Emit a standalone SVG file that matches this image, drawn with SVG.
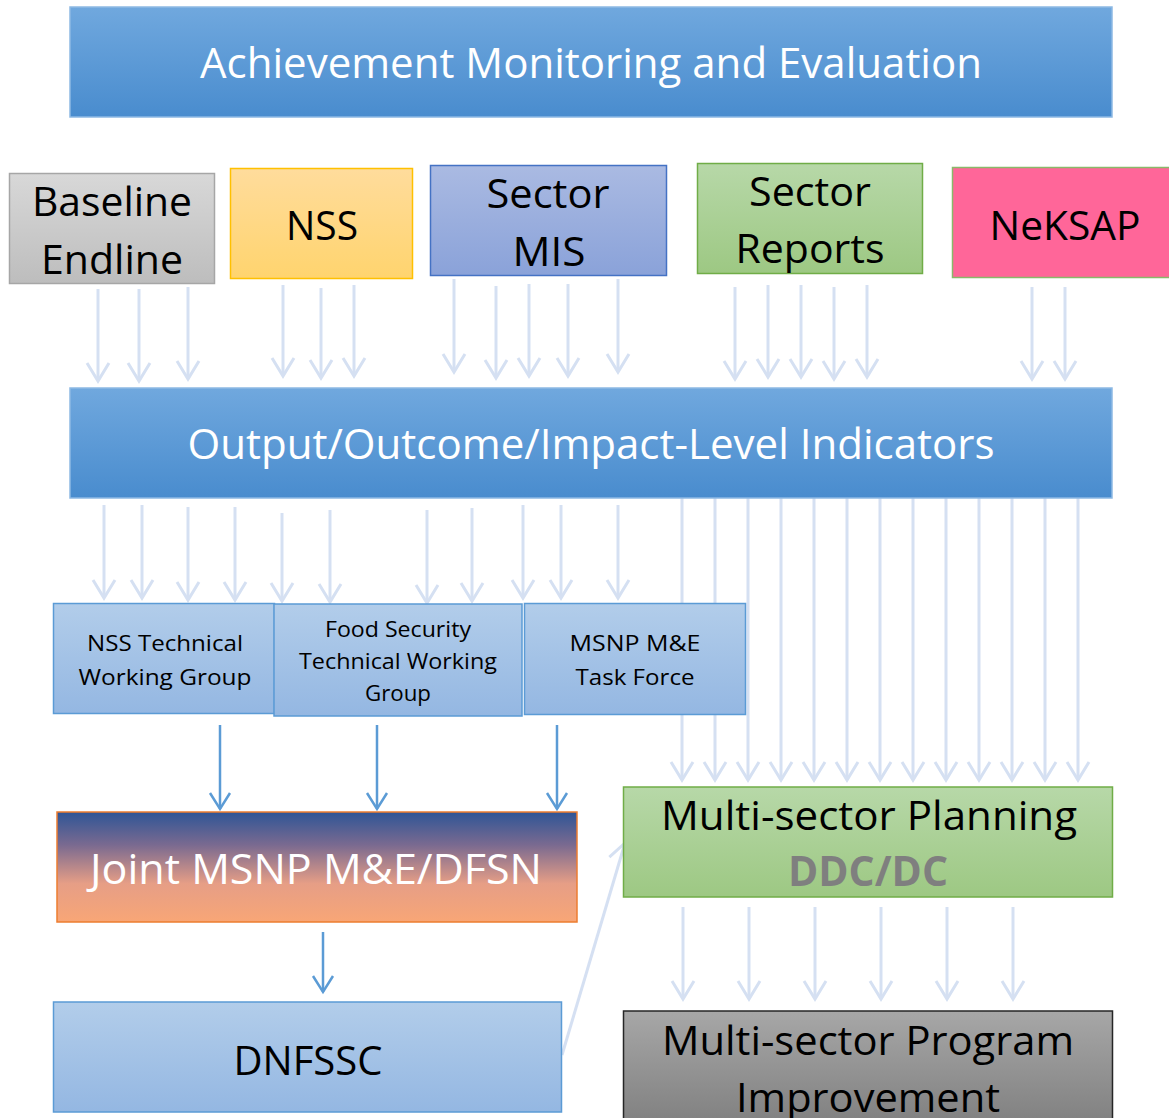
<svg xmlns="http://www.w3.org/2000/svg" width="1169" height="1118" viewBox="0 0 1169 1118">
<defs>
<linearGradient id="gBar" x1="0" y1="0" x2="0" y2="1"><stop offset="0" stop-color="#70a8de"/><stop offset="1" stop-color="#498cce"/></linearGradient>
<linearGradient id="gGray" x1="0" y1="0" x2="0" y2="1"><stop offset="0" stop-color="#d8d8d8"/><stop offset="1" stop-color="#bdbdbd"/></linearGradient>
<linearGradient id="gYel" x1="0" y1="0" x2="0" y2="1"><stop offset="0" stop-color="#ffdc9c"/><stop offset="1" stop-color="#ffd46e"/></linearGradient>
<linearGradient id="gPur" x1="0" y1="0" x2="0" y2="1"><stop offset="0" stop-color="#aabae2"/><stop offset="1" stop-color="#8aa2d9"/></linearGradient>
<linearGradient id="gGrn" x1="0" y1="0" x2="0" y2="1"><stop offset="0" stop-color="#b7d8a8"/><stop offset="1" stop-color="#9dc883"/></linearGradient>
<linearGradient id="gLb" x1="0" y1="0" x2="0" y2="1"><stop offset="0" stop-color="#b2cdea"/><stop offset="1" stop-color="#94b7e2"/></linearGradient>
<linearGradient id="gJoint" x1="0" y1="0" x2="0" y2="1"><stop offset="0" stop-color="#2e5596"/><stop offset="0.3" stop-color="#7a6a90"/><stop offset="0.65" stop-color="#e69e86"/><stop offset="1" stop-color="#f8a676"/></linearGradient>
<linearGradient id="gDark" x1="0" y1="0" x2="0" y2="1"><stop offset="0" stop-color="#a7a7a7"/><stop offset="1" stop-color="#7e7e7e"/></linearGradient>
<marker id="aL" markerUnits="userSpaceOnUse" markerWidth="40" markerHeight="40" viewBox="-20 -20 40 40" refX="0" refY="0" orient="auto"><path d="M-18,-11 L0,0 L-18,11" fill="none" stroke="#d5e0f2" stroke-width="3"/></marker>
<marker id="aB" markerUnits="userSpaceOnUse" markerWidth="40" markerHeight="40" viewBox="-20 -20 40 40" refX="0" refY="0" orient="auto"><path d="M-16,-10 L0,0 L-16,10" fill="none" stroke="#5b9bd5" stroke-width="2.5"/></marker>
</defs>
<style>
.t{font-family:"Open Sans","Noto Sans",sans-serif;text-anchor:middle}
.big{font-size:41px;fill:#000}
.wht{font-size:42px;fill:#fff}
.sm{font-size:22px;fill:#000}
.la{stroke:#d5e0f2;stroke-width:3;fill:none;marker-end:url(#aL)}
.ba{stroke:#5b9bd5;stroke-width:2.5;fill:none;marker-end:url(#aB)}
</style>
<rect width="1169" height="1118" fill="#fff"/>
<g id="connectors">
<line class="la" x1="98" y1="289" x2="98" y2="381"/>
<line class="la" x1="139" y1="289" x2="139" y2="381"/>
<line class="la" x1="188" y1="287" x2="188" y2="379"/>
<line class="la" x1="283" y1="285" x2="283" y2="376"/>
<line class="la" x1="321" y1="288" x2="321" y2="378"/>
<line class="la" x1="354" y1="285" x2="354" y2="376"/>
<line class="la" x1="454" y1="279" x2="454" y2="372"/>
<line class="la" x1="496" y1="286" x2="496" y2="378"/>
<line class="la" x1="529" y1="284" x2="529" y2="376"/>
<line class="la" x1="568" y1="284" x2="568" y2="376"/>
<line class="la" x1="618" y1="279" x2="618" y2="372"/>
<line class="la" x1="735" y1="287" x2="735" y2="379"/>
<line class="la" x1="768" y1="285" x2="768" y2="377"/>
<line class="la" x1="801" y1="285" x2="801" y2="377"/>
<line class="la" x1="834" y1="287" x2="834" y2="379"/>
<line class="la" x1="867" y1="285" x2="867" y2="377"/>
<line class="la" x1="1032" y1="287" x2="1032" y2="379"/>
<line class="la" x1="1065" y1="287" x2="1065" y2="379"/>
<line class="la" x1="104" y1="505" x2="104" y2="598"/>
<line class="la" x1="142" y1="505" x2="142" y2="598"/>
<line class="la" x1="188" y1="507" x2="188" y2="600"/>
<line class="la" x1="235" y1="507" x2="235" y2="600"/>
<line class="la" x1="282" y1="513" x2="282" y2="601"/>
<line class="la" x1="330" y1="510" x2="330" y2="602"/>
<line class="la" x1="427" y1="510" x2="427" y2="603"/>
<line class="la" x1="472" y1="508" x2="472" y2="601"/>
<line class="la" x1="523" y1="505" x2="523" y2="598"/>
<line class="la" x1="561" y1="505" x2="561" y2="598"/>
<line class="la" x1="618" y1="505" x2="618" y2="598"/>
<line class="la" x1="682" y1="498" x2="682" y2="780"/>
<line class="la" x1="715" y1="498" x2="715" y2="780"/>
<line class="la" x1="748" y1="498" x2="748" y2="780"/>
<line class="la" x1="781" y1="498" x2="781" y2="780"/>
<line class="la" x1="814" y1="498" x2="814" y2="780"/>
<line class="la" x1="847" y1="498" x2="847" y2="780"/>
<line class="la" x1="880" y1="498" x2="880" y2="780"/>
<line class="la" x1="913" y1="498" x2="913" y2="780"/>
<line class="la" x1="946" y1="498" x2="946" y2="780"/>
<line class="la" x1="979" y1="498" x2="979" y2="780"/>
<line class="la" x1="1012" y1="498" x2="1012" y2="780"/>
<line class="la" x1="1045" y1="498" x2="1045" y2="780"/>
<line class="la" x1="1078" y1="498" x2="1078" y2="780"/>
<line class="la" x1="683" y1="907" x2="683" y2="999"/>
<line class="la" x1="749" y1="907" x2="749" y2="999"/>
<line class="la" x1="815" y1="907" x2="815" y2="999"/>
<line class="la" x1="881" y1="907" x2="881" y2="999"/>
<line class="la" x1="947" y1="907" x2="947" y2="999"/>
<line class="la" x1="1013" y1="907" x2="1013" y2="999"/>
<line class="la" x1="562" y1="1055" x2="625" y2="843"/>
<line class="ba" x1="220" y1="725" x2="220" y2="809"/>
<line class="ba" x1="377" y1="725" x2="377" y2="809"/>
<line class="ba" x1="557" y1="725" x2="557" y2="809"/>
<line class="ba" x1="323" y1="932" x2="323" y2="992"/>
</g>
<g id="n-achievement">
<rect x="70" y="7" width="1042" height="110" fill="url(#gBar)" stroke="#8db9e4" stroke-width="1.5"/>
<text class="t wht" x="591" y="78" textLength="782" lengthAdjust="spacingAndGlyphs">Achievement Monitoring and Evaluation</text>
</g>
<g id="n-baseline">
<rect x="9.5" y="173.5" width="205" height="110" fill="url(#gGray)" stroke="#a6a6a6" stroke-width="1.5"/>
<text class="t big" x="112" y="216" textLength="160" lengthAdjust="spacingAndGlyphs">Baseline</text>
<text class="t big" x="112" y="274" textLength="142" lengthAdjust="spacingAndGlyphs">Endline</text>
</g>
<g id="n-nss">
<rect x="230.5" y="168.5" width="182" height="110" fill="url(#gYel)" stroke="#ffc000" stroke-width="1.5"/>
<text class="t big" x="322" y="240" textLength="72" lengthAdjust="spacingAndGlyphs">NSS</text>
</g>
<g id="n-sectormis">
<rect x="430.5" y="165.5" width="236" height="110" fill="url(#gPur)" stroke="#4472c4" stroke-width="1.5"/>
<text class="t big" x="548" y="208" textLength="123" lengthAdjust="spacingAndGlyphs">Sector</text>
<text class="t big" x="549" y="266" textLength="73" lengthAdjust="spacingAndGlyphs">MIS</text>
</g>
<g id="n-sectorreports">
<rect x="697.5" y="163.5" width="225" height="110" fill="url(#gGrn)" stroke="#70ad47" stroke-width="1.5"/>
<text class="t big" x="810" y="206" textLength="122" lengthAdjust="spacingAndGlyphs">Sector</text>
<text class="t big" x="810" y="263" textLength="149" lengthAdjust="spacingAndGlyphs">Reports</text>
</g>
<g id="n-neksap">
<rect x="952.5" y="167.5" width="220" height="110" fill="#ff6699" stroke="#8ab86a" stroke-width="1.5"/>
<text class="t big" x="1065" y="240" textLength="151" lengthAdjust="spacingAndGlyphs">NeKSAP</text>
</g>
<g id="n-indicators">
<rect x="70" y="388" width="1042" height="110" fill="url(#gBar)" stroke="#8db9e4" stroke-width="1.5"/>
<text class="t wht" x="591" y="459" textLength="807" lengthAdjust="spacingAndGlyphs">Output/Outcome/Impact-Level Indicators</text>
</g>
<g id="n-nsstwg">
<rect x="53.5" y="603.5" width="221" height="110" fill="url(#gLb)" stroke="#5b9bd5" stroke-width="1.5"/>
<text class="t sm" x="165" y="651" textLength="156" lengthAdjust="spacingAndGlyphs">NSS Technical</text>
<text class="t sm" x="165" y="685" textLength="173" lengthAdjust="spacingAndGlyphs">Working Group</text>
</g>
<g id="n-foodsec">
<rect x="274" y="604" width="248" height="112" fill="url(#gLb)" stroke="#5b9bd5" stroke-width="1.5"/>
<text class="t sm" x="398" y="637" textLength="146" lengthAdjust="spacingAndGlyphs">Food Security</text>
<text class="t sm" x="398" y="669" textLength="198" lengthAdjust="spacingAndGlyphs">Technical Working</text>
<text class="t sm" x="398" y="701" textLength="66" lengthAdjust="spacingAndGlyphs">Group</text>
</g>
<g id="n-msnptf">
<rect x="524.5" y="603.5" width="221" height="111" fill="url(#gLb)" stroke="#5b9bd5" stroke-width="1.5"/>
<text class="t sm" x="635" y="651" textLength="131" lengthAdjust="spacingAndGlyphs">MSNP M&amp;E</text>
<text class="t sm" x="635" y="685" textLength="119" lengthAdjust="spacingAndGlyphs">Task Force</text>
</g>
<g id="n-joint">
<rect x="57" y="812" width="520" height="110" fill="url(#gJoint)" stroke="#ed7d31" stroke-width="1.5"/>
<text class="t wht" x="316" y="884" textLength="452" lengthAdjust="spacingAndGlyphs">Joint MSNP M&amp;E/DFSN</text>
</g>
<g id="n-dnfssc">
<rect x="53.5" y="1002" width="508" height="110" fill="url(#gLb)" stroke="#5b9bd5" stroke-width="1.5"/>
<text class="t big" x="308" y="1075" textLength="149" lengthAdjust="spacingAndGlyphs">DNFSSC</text>
</g>
<g id="n-planning">
<rect x="623.5" y="787" width="489" height="110" fill="url(#gGrn)" stroke="#70ad47" stroke-width="1.5"/>
<text class="t big" x="869" y="830" textLength="416" lengthAdjust="spacingAndGlyphs">Multi-sector Planning</text>
<text class="t big" x="868" y="886" textLength="160" lengthAdjust="spacingAndGlyphs" style="fill:#7f7f7f;font-weight:bold">DDC/DC</text>
</g>
<g id="n-program">
<rect x="623.5" y="1011" width="489" height="120" fill="url(#gDark)" stroke="#262626" stroke-width="1.5"/>
<text class="t big" x="868" y="1055" textLength="412" lengthAdjust="spacingAndGlyphs">Multi-sector Program</text>
<text class="t big" x="868" y="1112" textLength="264" lengthAdjust="spacingAndGlyphs">Improvement</text>
</g>
</svg>
